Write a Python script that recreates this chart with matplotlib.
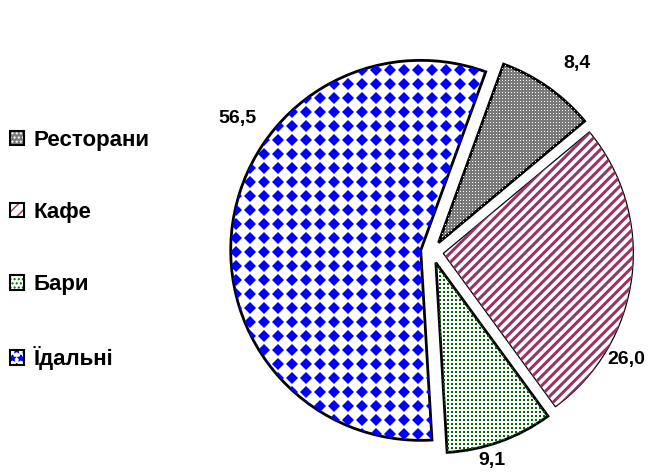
import numpy as np
import matplotlib
matplotlib.use("Agg")
import matplotlib.pyplot as plt
from matplotlib.patches import Patch
from matplotlib.collections import LineCollection

plt.rcParams['font.family'] = ['Liberation Sans', 'DejaVu Sans']
plt.rcParams['font.weight'] = 'bold'

# ---- data ----
categories = ['Ресторани', 'Кафе', 'Бари', 'Їдальні']
values = [8.4, 26.0, 9.1, 56.5]
value_labels = ['8,4', '26,0', '9,1', '56,5']

# ---- styles ----
face_colors = ['#7a7a7a', 'white', 'white', 'white']
tex_colors = ['white', '#993366', '#006a00', '#0000ff']
legend_hatches = ['....', '///', '....', '**']
outline_lw = [2.0, 0.9, 2.0, 2.0]
explode = [0.06, 0.06, 0.06, 0.06]
# label placement: (angle clockwise from 12 o'clock in degrees, distance in radii)
label_pos = [(37.5, 1.25), (119.0, 1.17), (164.0, 1.14), (-55.6, 1.24)]

W, H = 664, 472
fig = plt.figure(figsize=(W / 100, H / 100), dpi=100)
ax = fig.add_axes([0, 0, 1, 1])
R = 190.0
cx, cy = 432.0, 472 - 252.0
px = 1.0 / R  # one pixel in data units
pt_per_px = 0.72

wedges_fill, _ = ax.pie(values, explode=explode, startangle=70, counterclock=False,
                        radius=1.0, wedgeprops=dict(linewidth=0))
for w, fc in zip(wedges_fill, face_colors):
    w.set_facecolor(fc)
    w.set_linewidth(0)


def grid_markers(wedge, step_px, marker, size_px, color, offset_px=0.0, aa=False):
    n = int(1.3 * R / step_px)
    g = (np.arange(-n, n + 1) * step_px + offset_px) * px
    gx, gy = np.meshgrid(g, g)
    ln, = ax.plot(gx.ravel(), gy.ravel(), linestyle='none', marker=marker,
                  markersize=size_px * pt_per_px, color=color, markeredgewidth=0,
                  antialiased=aa)
    ln.set_clip_path(wedge)


# Ресторани: grey with fine white dots
grid_markers(wedges_fill[0], 3, 's', 1.0, tex_colors[0], offset_px=0.5)
# Кафе: diagonal stripes
period = 6.6 * px * np.sqrt(2)
cs = np.arange(-3, 3, period)
segs = [[(-1.5, -1.5 + c), (1.5, 1.5 + c)] for c in cs]
lc = LineCollection(segs, colors=tex_colors[1], linewidths=3.0 * pt_per_px)
ax.add_collection(lc)
lc.set_clip_path(wedges_fill[1])
# Бари: green dots
grid_markers(wedges_fill[2], 4, 's', 2.0, tex_colors[2], offset_px=0.0)
# Їдальні: blue diamonds
grid_markers(wedges_fill[3], 14.0, 'D', 8.6, tex_colors[3], aa=True)

wedges_edge, _ = ax.pie(values, explode=explode, startangle=70, counterclock=False,
                        radius=1.0, wedgeprops=dict(fill=False, edgecolor='black'))
for w, lw in zip(wedges_edge, outline_lw):
    w.set_linewidth(lw)
    w.set_joinstyle('miter')

for lab, (ang, dist) in zip(value_labels, label_pos):
    a = np.deg2rad(ang)
    ax.text(dist * np.sin(a), dist * np.cos(a), lab, ha='center', va='center',
            fontsize=14, fontweight='bold')

ax.set_xlim(-cx / R, (W - cx) / R)
ax.set_ylim(-cy / R, (H - cy) / R)
ax.set_aspect('auto')
ax.axis('off')

# legend
handles = []
for fc, tc, h in zip(face_colors, tex_colors, legend_hatches):
    p1 = Patch(facecolor=fc, edgecolor=tc, hatch=h, linewidth=0)
    p2 = Patch(facecolor='none', edgecolor='black', linewidth=1.5)
    handles.append((p1, p2))
fig.legend(handles, categories, loc='center left', bbox_to_anchor=(0.015, 0.470),
           frameon=False, handlelength=0.62, handleheight=0.62,
           handletextpad=0.45, labelspacing=2.30, borderpad=0, borderaxespad=0,
           prop=dict(weight='bold', size=16))

fig.savefig('out.png', dpi=100)
